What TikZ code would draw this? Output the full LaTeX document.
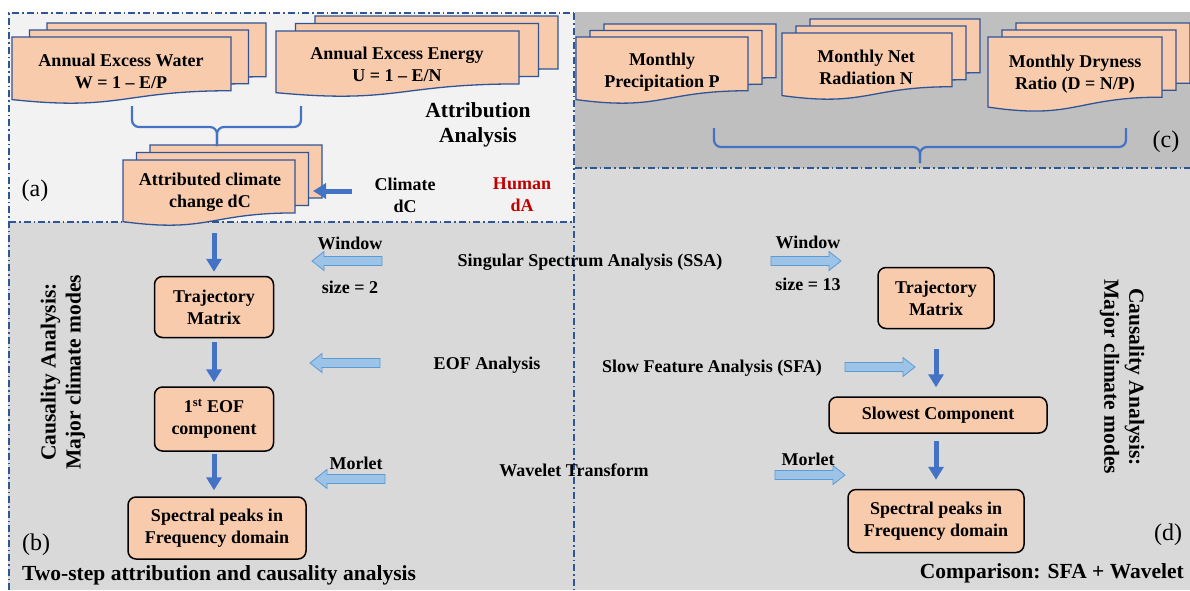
\documentclass[tikz,border=0pt]{standalone}
\usepackage{fontspec}
\setmainfont{Liberation Serif}
\usetikzlibrary{arrows.meta}

\definecolor{docfill}{HTML}{F8CBAD}
\definecolor{docline}{HTML}{2F5597}
\definecolor{bluearr}{HTML}{4472C4}
\definecolor{lightarr}{HTML}{9DC3E6}
\definecolor{lightline}{HTML}{5B9BD5}
\definecolor{humanred}{HTML}{C00000}
\definecolor{panela}{HTML}{F2F2F2}
\definecolor{panelc}{HTML}{BFBFBF}
\definecolor{panelbd}{HTML}{D9D9D9}

\tikzset{
  lbl/.style={font=\bfseries\fontsize{18}{22}\selectfont, align=center, inner sep=0},
  headtxt/.style={font=\bfseries\fontsize{21.5}{25}\selectfont, align=center, inner sep=0},
  paneltag/.style={font=\fontsize{24}{28}\selectfont, inner sep=0},
  stepbox/.style={lbl, draw=black, line width=1.5pt, fill=docfill, rounded corners=8pt},
  docshape/.style={draw=docline, fill=docfill, line width=1.3pt},
  panelline/.style={draw=docline, line width=1.2pt, dash pattern=on 7pt off 3pt on 1.5pt off 3pt},
  bracepath/.style={draw=bluearr, line width=2.2pt, rounded corners=7pt},
  downarr/.style={draw=bluearr, line width=5pt, -{Triangle[width=15pt,length=13pt]}},
  blockarr/.pic={\draw[draw=lightline, fill=lightarr, line width=0.8pt]
    (0,-4.5) -- (58,-4.5) -- (58,-9.5) -- (70,0) -- (58,9.5) -- (58,4.5) -- (0,4.5) -- cycle;}
}

\begin{document}
\begin{tikzpicture}[x=1pt, y=-1pt]

%\draw[xstep=50pt,ystep=-50pt,color=gray!80] (0,0) grid (1190,590);

\useasboundingbox (0,0) rectangle (1190,590);

% panels
\fill[panela] (8,13) rectangle (575,222);
\fill[panelc] (575,12) rectangle (1190,168);
\fill[panelbd] (8,222) rectangle (575,590);
\fill[panelbd] (575,168) rectangle (1190,590);

\draw[panelline] (9,590) -- (9,13) -- (574,13);
\draw[panelline] (9,222) -- (572,222);
\draw[panelline] (574,13) -- (574,590);
\draw[panelline] (575,168) -- (1190,168);

% stacks of documents
\foreach \x/\y/\w/\h/\dx/\dy in {12/37/219/67/17.5/7, 276/31/243/66/19.5/7.5,
    123/160/172/66/13.5/7.5, 576/37/172/67/14/6.5, 782/33/170/67/14/7, 988/37/174/75/14/7}
  \foreach \k in {2,1,0} {
    \pgfmathsetmacro\a{\x+\k*\dx}
    \pgfmathsetmacro\b{\y-\k*\dy}
    \draw[docshape] (\a,\b) -- ({\a+\w},\b) -- ({\a+\w},{\b+0.802*\h})
      .. controls ({\a+0.5*\w},{\b+0.802*\h}) and ({\a+0.5*\w},{\b+1.108*\h}) .. (\a,{\b+0.934*\h}) -- cycle;
  }

\node[lbl] (water) at (121,71) {Annual Excess Water\\W = 1 \textendash{} E/P};
\node[lbl] (energy) at (397,64) {Annual Excess Energy\\U = 1 \textendash{} E/N};
\node[lbl] (attrib) at (210,192) {Attributed climate\\change dC};
\node[lbl] (precip) at (662,72) {Monthly\\Precipitation P};
\node[lbl] (netrad) at (866,67) {Monthly Net\\Radiation N};
\node[lbl] (dryness) at (1075,74) {Monthly Dryness\\Ratio (D = N/P)};

% braces
\draw[bracepath] (132,106) |- (217,127) -- (217,146);
\draw[bracepath] (301,106) |- (217,127) -- (217,146);
\draw[bracepath] (714,128) |- (920,147) -- (920,163);
\draw[bracepath] (1126,128) |- (920,147) -- (920,163);

\node[headtxt] (attrtitle) at (478,125) {Attribution\\Analysis};
\node[lbl] (climate) at (405,195) {Climate\\dC};
\node[lbl, text=humanred] (human) at (522,195) {Human\\dA};

\coordinate (attribin) at (313,191);
\draw[downarr, shorten <=22pt] (climate.west |- attribin) -- (attribin);

% left column: EOF
\node[stepbox, minimum width=119pt, minimum height=61pt] (trajl) at (214,307) {Trajectory\\Matrix};
\node[stepbox, minimum width=119pt, minimum height=64pt] (eofl) at (214,419) {1\textsuperscript{st} EOF\\component};
\node[stepbox, minimum width=178pt, minimum height=62pt] (specl) at (217,528) {Spectral peaks in\\Frequency domain};

\coordinate (attribout) at (214,233);
\draw[downarr, shorten >=4pt] (attribout) -- (trajl);
\draw[downarr, shorten <=4pt, shorten >=4pt] (trajl) -- (eofl);
\draw[downarr, shorten <=2pt, shorten >=6pt] (eofl.south) -- (eofl.south |- specl.north);

% right column: SFA
\node[stepbox, minimum width=116pt, minimum height=61pt] (trajr) at (936,298) {Trajectory\\Matrix};
\node[stepbox, minimum width=218pt, minimum height=36pt] (slow) at (938,415) {Slowest Component};
\node[stepbox, minimum width=176pt, minimum height=63pt] (specr) at (936,521) {Spectral peaks in\\Frequency domain};

\draw[downarr, shorten <=20pt, shorten >=9pt] (trajr.south) -- (trajr.south |- slow.north);
\draw[downarr, shorten <=7pt, shorten >=9pt] (slow.south -| specr.north) -- (specr.north);

% methods
\pic[rotate=180] at (382,261) {blockarr};
\pic[rotate=180] at (380,363) {blockarr};
\pic[rotate=180] at (385,479) {blockarr};
\pic at (771,261) {blockarr};
\pic at (845,367) {blockarr};
\pic at (775,475) {blockarr};

\node[lbl] (winl) at (350,243) {Window};
\node[lbl] (sizel) at (350,287) {size = 2};
\node[lbl] (morletl) at (356,463) {Morlet};
\node[lbl] (winr) at (808,242) {Window};
\node[lbl] (sizer) at (808,284) {size = 13};
\node[lbl] (morletr) at (808,459) {Morlet};

\node[lbl] (ssa) at (590,262) {Singular Spectrum Analysis (SSA)};
\node[lbl] (eof) at (487,365) {EOF Analysis};
\node[lbl] (sfa) at (712,368) {Slow Feature Analysis (SFA)};
\node[lbl] (wavelet) at (574,470) {Wavelet Transform};

\node[headtxt, rotate=90] (causl) at (63,372) {Causality Analysis:\\Major climate modes};
\node[headtxt, rotate=-90] (causr) at (1122,377) {Causality Analysis:\\Major climate modes};

\node[paneltag] (taga) at (35,191) {(a)};
\node[paneltag] (tagb) at (36,545) {(b)};
\node[paneltag] (tagc) at (1166,142) {(c)};
\node[paneltag] (tagd) at (1168,535) {(d)};

\node[headtxt, anchor=west] (twostep) at (22,575) {Two-step attribution and causality analysis};
\node[headtxt, anchor=east] (compare) at (1184,573) {Comparison: SFA + Wavelet};

\end{tikzpicture}
\end{document}
